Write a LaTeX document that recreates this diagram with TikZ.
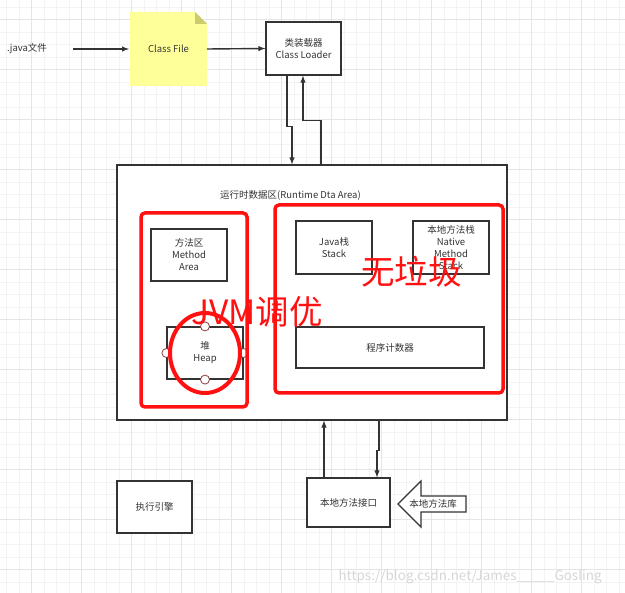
\documentclass[tikz,border=0pt]{standalone}
\usepackage{fontspec}
\setmainfont{Noto Sans CJK SC}
\usepackage{xcolor}
\usetikzlibrary{arrows}
\usetikzlibrary{math}
\definecolor{mygrid}{RGB}{243,243,243}
\definecolor{mygridmajor}{RGB}{229,229,229}
\definecolor{myline}{RGB}{51,51,51}
\definecolor{mynote}{RGB}{255,255,153}
\definecolor{myfold}{RGB}{204,204,110}
\definecolor{myred}{RGB}{255,17,17}
\definecolor{myport}{RGB}{140,60,60}
\definecolor{mymark}{RGB}{215,215,215}

\tikzset{
  box/.style={draw=myline, fill=white, line width=1.2pt, align=center, text=myline,
    font=\fontsize{9.5}{12}\selectfont, inner sep=0pt},
  lbl/.style={text=myline, align=center, font=\fontsize{9.5}{12}\selectfont, inner sep=0pt},
  arr/.style={-latex, draw=myline, line width=1.4pt},
  redframe/.style={draw=myred, line width=3.5pt, rounded corners=4pt},
  redtext/.style={text=myred, font=\fontsize{33.5}{34}\selectfont, inner sep=0pt},
  port/.style={draw=myport, fill=white, line width=0.8pt},
}

\begin{document}
\begin{tikzpicture}[x=1pt, y=-1pt]
\tikzmath{
\W=625;
\H=593;
}
\useasboundingbox (0,0) rectangle (\W,\H);
\fill[white] (0,0) rectangle (\W,\H);

% background grid
\foreach \gx in {6.7,19.2,...,625} \draw[mygrid, line width=1pt] (\gx,0) -- (\gx,\H);
\foreach \gy in {7.5,20,...,593} \draw[mygrid, line width=1pt] (0,\gy) -- (\W,\gy);
\foreach \gx in {31.7,81.7,...,625} \draw[mygridmajor, line width=1pt] (\gx,0) -- (\gx,\H);
\foreach \gy in {20,70,...,593} \draw[mygridmajor, line width=1pt] (0,\gy) -- (\W,\gy);

% class file note
\fill[mynote] (130,12) -- (195,12) -- (207,24) -- (207,86) -- (130,86) -- cycle;
\fill[myfold] (195,12) -- (207,24) -- (195,24) -- cycle;
\coordinate (noteeast) at (207,49);

\node[lbl] (java) at (27,49) {.java文件};
\node[lbl] (classfile) at (168.5,49) {Class File};
\node[box, minimum width=75, minimum height=53] (loader) at (303.5,48.5) {类装载器\\Class Loader};

\node[box, minimum width=390, minimum height=255] (runtime) at (312,292.5) {};
\node[lbl] (title) at (290.5,195) {运行时数据区(Runtime Dta Area)};

\node[box, minimum width=76, minimum height=52] (method) at (189,255) {方法区\\Method\\Area};
\node[box, minimum width=76, minimum height=52] (heap) at (205,353) {堆\\Heap};
\node[box, minimum width=76, minimum height=53] (javastack) at (334,247.5) {Java栈\\Stack};
\node[box, minimum width=76, minimum height=53] (nativestack) at (451,247.5) {本地方法栈\\Native\\Method\\Stack};
\node[box, minimum width=188, minimum height=41] (pc) at (390,347.5) {程序计数器};

\node[box, minimum width=83, minimum height=49] (native) at (348.5,502.5) {本地方法接口};
\node[box, minimum width=75, minimum height=52] (engine) at (154.5,507) {执行引擎};

\draw[line width=1.2pt, draw=myline, fill=white] (398,504) -- (421,481) -- (421,496) -- (466,496)
  -- (466,512) -- (421,512) -- (421,527) -- cycle;
\node[lbl] (library) at (433,504) {本地方法库};

\foreach \p in {north, south, west, east} \draw[port] (heap.\p) circle (4.5);

\draw[arr] ([xshift=26]java.east) -- (classfile.west -| 129,49);
\draw[arr] (noteeast) -- (loader.west);
\draw[arr] ([xshift=-16.5]loader.south) -- ++(0,51) -- ++(5,0) -- ([xshift=-20]runtime.north);
\draw[arr] ([xshift=9]runtime.north) -- ++(0,-44) -- ++(-18,0) -- ([xshift=-0.5]loader.south);
\draw[arr] ([xshift=-24.5]native.north) -- ([xshift=12]runtime.south);
\draw[arr] ([xshift=67]runtime.south) -- ++(0,30) -- ++(-2,0) -- ([xshift=28.5]native.north);

% red marks
\draw[redframe] (141,213) rectangle (247,407);
\draw[redframe] (275,205) rectangle (503,393);
\draw[draw=myred, line width=4pt] (205,353) ellipse (35 and 40);
\node[redtext, anchor=base west] (tuning) at (191,325) {JVM调优};
\node[redtext, anchor=base west] (nogc) at (361,285) {无垃圾};

\node[text=mymark, font=\fontsize{13.5}{14}\selectfont, anchor=base west] (mark) at (335,581)
  {https://blog.csdn.net/James\_\_\_\_\_Gosling};
\end{tikzpicture}
\end{document}
